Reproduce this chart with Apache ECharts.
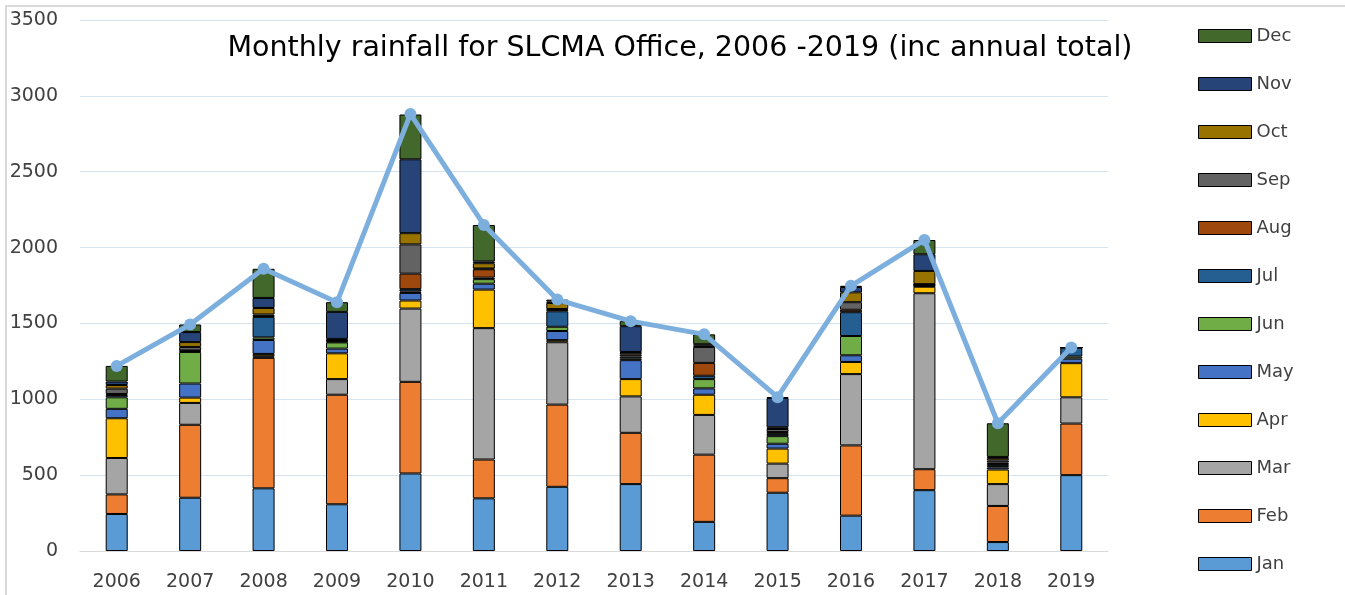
<!DOCTYPE html>
<html>
<head>
<meta charset="utf-8">
<script src="https://cdn.jsdelivr.net/npm/echarts@6/dist/echarts.min.js"></script>
<style>
  html, body { margin: 0; padding: 0; background: #fff; }
  #chart { width: 1345px; height: 595px; }
</style>
</head>
<body>
<div id="chart"></div>
<script>
var years = ['2006', '2007', '2008', '2009', '2010', '2011', '2012', '2013', '2014', '2015', '2016', '2017', '2018', '2019'];
var months = ['Jan', 'Feb', 'Mar', 'Apr', 'May', 'Jun', 'Jul', 'Aug', 'Sep', 'Oct', 'Nov', 'Dec'];

// monthly rainfall, one array per month (mm)
var jan = [244, 351, 413, 308, 511, 347, 423, 441, 192, 384, 233, 401, 59, 500];
var feb = [129, 481, 860, 722, 604, 256, 542, 338, 443, 96, 463, 138, 238, 340];
var mar = [240, 144, 11, 103, 483, 866, 411, 240, 262, 96, 470, 1160, 144, 173];
var apr = [262, 35, 15, 170, 53, 254, 14, 114, 133, 99, 80, 43, 96, 225];
var may = [62, 93, 92, 31, 50, 39, 60, 125, 42, 32, 44, 4, 14, 30];
var jun = [76, 208, 17, 41, 10, 30, 28, 12, 61, 50, 127, 4, 10, 14];
var jul = [15, 6, 135, 5, 15, 10, 102, 12, 22, 15, 157, 3, 12, 59];
var aug = [7, 4, 5, 5, 102, 55, 10, 12, 85, 12, 16, 3, 10, 0];
var sep = [35, 23, 11, 5, 193, 5, 5, 13, 105, 20, 50, 3, 14, 0];
var oct = [24, 32, 43, 8, 74, 35, 40, 5, 8, 12, 65, 87, 15, 0];
var nov = [23, 66, 66, 178, 487, 12, 10, 170, 10, 193, 35, 110, 8, 0];
var dec = [103, 50, 192, 64, 295, 240, 12, 33, 65, 5, 8, 94, 222, 0];

// annual totals (line)
var totals = [1220, 1493, 1860, 1640, 2880, 2149, 1657, 1515, 1428, 1014, 1748, 2050, 842, 1341];

var monthData = [jan, feb, mar, apr, may, jun, jul, aug, sep, oct, nov, dec];
var colors = ['#5B9BD5', '#ED7D31', '#A5A5A5', '#FFC000', '#4472C4', '#70AD47',
              '#255E91', '#9E480E', '#636363', '#997300', '#264478', '#43682B'];

var font = 'DejaVu Sans';

var series = [];
for (var i = 0; i < months.length; i++) {
  series.push({
    name: months[i],
    type: 'bar',
    stack: 'rain',
    barWidth: 22,
    itemStyle: {
      color: colors[i],
      borderColor: '#000',
      borderWidth: 1
    },
    data: monthData[i]
  });
}
series.push({
  name: 'Total',
  type: 'line',
  z: 5,
  symbol: 'circle',
  symbolSize: 12,
  lineStyle: { color: '#7DAFDE', width: 5 },
  itemStyle: { color: '#7DAFDE' },
  data: totals
});

var myChart = echarts.init(document.getElementById('chart'));
var option = {
  animation: false,
  title: {
    text: 'Monthly rainfall for SLCMA Office, 2006 -2019 (inc annual total)',
    left: 675,
    top: 29,
    textAlign: 'center',
    textStyle: {
      fontFamily: font,
      fontSize: 28.5,
      fontWeight: 'normal',
      color: '#000'
    }
  },
  legend: {
    orient: 'vertical',
    left: 1198,
    top: 26,
    padding: 0,
    data: months.slice().reverse(),
    icon: 'rect',
    itemWidth: 53,
    itemHeight: 13,
    itemGap: 28,
    itemStyle: { borderColor: '#000', borderWidth: 1 },
    textStyle: {
      fontFamily: font,
      fontSize: 18,
      lineHeight: 20,
      color: '#404040'
    }
  },
  graphic: [{
    type: 'rect',
    shape: { x: 6, y: 6, width: 1400, height: 700 },
    style: { fill: 'none', stroke: '#D9D9D9', lineWidth: 2 },
    silent: true
  }],
  grid: {
    left: 80,
    right: 237,
    top: 20,
    bottom: 44
  },
  xAxis: {
    type: 'category',
    data: years,
    axisLine: { lineStyle: { color: '#D9D9D9', width: 1 } },
    axisTick: { show: false },
    axisLabel: {
      fontFamily: font,
      fontSize: 19,
      color: '#404040',
      margin: 22
    }
  },
  yAxis: {
    type: 'value',
    min: 0,
    max: 3500,
    interval: 500,
    axisLine: { show: false },
    axisTick: { show: false },
    splitLine: { lineStyle: { color: '#D6E4F2', width: 1 } },
    axisLabel: {
      fontFamily: font,
      fontSize: 19,
      color: '#404040',
      margin: 22,
      formatter: function (v) { return String(v); }
    }
  },
  series: series
};
option && myChart.setOption(option);
</script>
</body>
</html>
